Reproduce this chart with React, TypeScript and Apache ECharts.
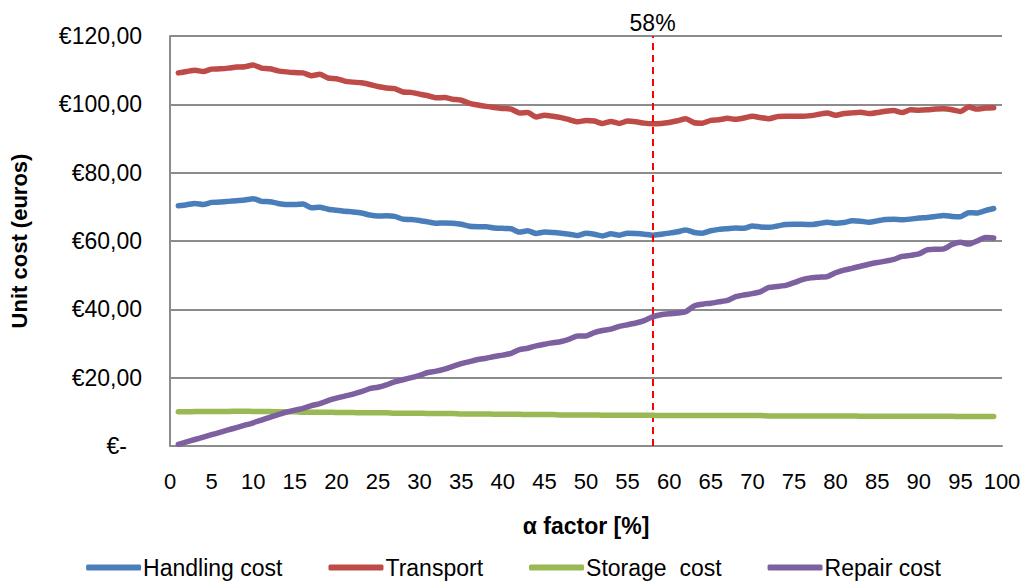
import React, { useEffect, useRef } from "react";
import * as echarts from "echarts";

const alpha = [
  1, 2, 3, 4, 5, 6, 7, 8, 9, 10, 11, 12, 13, 14, 15, 16, 17, 18, 19, 20,
  21, 22, 23, 24, 25, 26, 27, 28, 29, 30, 31, 32, 33, 34, 35, 36, 37, 38, 39, 40,
  41, 42, 43, 44, 45, 46, 47, 48, 49, 50, 51, 52, 53, 54, 55, 56, 57, 58, 59, 60,
  61, 62, 63, 64, 65, 66, 67, 68, 69, 70, 71, 72, 73, 74, 75, 76, 77, 78, 79, 80,
  81, 82, 83, 84, 85, 86, 87, 88, 89, 90, 91, 92, 93, 94, 95, 96, 97, 98, 99,
];

const handlingCost = [
  70.3, 70.6, 71.0, 70.7, 71.3, 71.4, 71.6, 71.8, 72.0, 72.4,
  71.6, 71.5, 71.0, 70.7, 70.7, 70.8, 69.7, 69.9, 69.3, 69.0,
  68.7, 68.5, 68.2, 67.6, 67.3, 67.4, 67.2, 66.4, 66.3, 66.0,
  65.6, 65.2, 65.3, 65.2, 64.9, 64.3, 64.2, 64.2, 63.8, 63.7,
  63.6, 62.6, 63.0, 62.2, 62.6, 62.5, 62.3, 62.0, 61.6, 62.3,
  62.0, 61.5, 62.1, 61.7, 62.3, 62.2, 62.0, 61.7, 62.0, 62.3,
  62.7, 63.2, 62.5, 62.3, 63.0, 63.4, 63.6, 63.8, 63.7, 64.4,
  64.1, 64.0, 64.4, 64.8, 64.9, 64.9, 64.8, 65.1, 65.5, 65.2,
  65.4, 65.9, 65.8, 65.5, 65.9, 66.3, 66.4, 66.2, 66.4, 66.7,
  66.9, 67.2, 67.5, 67.2, 67.1, 68.3, 68.2, 68.9, 69.5,
];

const transport = [
  109.2, 109.6, 110.0, 109.6, 110.3, 110.4, 110.6, 110.9, 111.0, 111.5,
  110.6, 110.4, 109.8, 109.5, 109.3, 109.2, 108.4, 108.8, 107.7, 107.5,
  106.8, 106.5, 106.3, 105.8, 105.2, 104.8, 104.6, 103.6, 103.5, 103.0,
  102.5, 101.9, 102.0, 101.5, 101.2, 100.3, 99.8, 99.4, 99.1, 98.8,
  98.6, 97.5, 97.6, 96.3, 96.8, 96.5, 96.1, 95.5, 94.9, 95.3,
  95.1, 94.4, 95.0, 94.4, 95.1, 94.9, 94.5, 94.3, 94.4, 94.7,
  95.2, 95.8, 94.6, 94.5, 95.3, 95.5, 95.9, 95.6, 96.0, 96.5,
  96.1, 95.8, 96.4, 96.5, 96.5, 96.5, 96.7, 97.1, 97.5, 96.8,
  97.3, 97.5, 97.7, 97.3, 97.6, 98.0, 98.2, 97.6, 98.4, 98.3,
  98.4, 98.6, 98.7, 98.4, 97.9, 99.2, 98.6, 98.9, 99.0,
];

const storageCost = [
  10.0, 10.0, 10.1, 10.1, 10.1, 10.1, 10.1, 10.2, 10.2, 10.1,
  10.1, 10.1, 10.0, 10.0, 10.0, 9.9, 9.9, 9.9, 9.9, 9.8,
  9.8, 9.8, 9.7, 9.7, 9.7, 9.7, 9.6, 9.6, 9.6, 9.6,
  9.5, 9.5, 9.5, 9.5, 9.4, 9.4, 9.4, 9.4, 9.3, 9.3,
  9.3, 9.3, 9.2, 9.2, 9.2, 9.2, 9.1, 9.1, 9.1, 9.1,
  9.1, 9.0, 9.0, 9.0, 9.0, 9.0, 9.0, 9.0, 8.9, 8.9,
  8.9, 8.9, 8.9, 8.9, 8.9, 8.9, 8.9, 8.9, 8.9, 8.9,
  8.9, 8.8, 8.8, 8.8, 8.8, 8.8, 8.8, 8.8, 8.8, 8.8,
  8.8, 8.8, 8.7, 8.7, 8.7, 8.7, 8.7, 8.7, 8.7, 8.7,
  8.7, 8.7, 8.7, 8.7, 8.6, 8.6, 8.6, 8.6, 8.6,
];

const repairCost = [
  0.5, 1.2, 1.9, 2.6, 3.3, 4.0, 4.7, 5.4, 6.1, 6.8,
  7.6, 8.4, 9.2, 9.9, 10.5, 11.0, 11.8, 12.4, 13.3, 14.0,
  14.6, 15.2, 15.9, 16.8, 17.2, 17.9, 18.8, 19.4, 20.0, 20.7,
  21.5, 21.9, 22.5, 23.3, 24.1, 24.7, 25.3, 25.7, 26.2, 26.6,
  27.1, 28.2, 28.6, 29.3, 29.8, 30.2, 30.6, 31.3, 32.2, 32.2,
  33.2, 33.8, 34.2, 35.0, 35.5, 36.0, 36.7, 37.8, 38.4, 38.7,
  38.9, 39.3, 41.0, 41.5, 41.8, 42.2, 42.6, 43.7, 44.2, 44.6,
  45.2, 46.4, 46.7, 47.0, 47.8, 48.7, 49.2, 49.4, 49.6, 50.7,
  51.5, 52.0, 52.6, 53.2, 53.7, 54.1, 54.6, 55.5, 55.8, 56.2,
  57.4, 57.6, 57.7, 59.0, 59.6, 59.1, 60.0, 61.0, 60.9,
];

const seriesNames = ["Handling cost", "Transport", "Storage  cost", "Repair cost"];
const seriesColors = ["#4A7EBB", "#BE4B48", "#98B954", "#7D60A0"];
const optimumAlpha = [58];

const FONT = "Liberation Sans, Arial, sans-serif";

export default function App() {
  const ref = useRef<HTMLDivElement>(null);

  useEffect(() => {
    if (!ref.current) return;
    const chart = echarts.init(ref.current, undefined, { renderer: "svg" });
    const allData = [handlingCost, transport, storageCost, repairCost];

    const series: any[] = allData.map((vals, si) => ({
      name: seriesNames[si],
      type: "line",
      data: alpha.map((a, i) => [a, vals[i]]),
      showSymbol: false,
      symbol: "none",
      smooth: 0.2,
      lineStyle: { width: 5.5, color: seriesColors[si], cap: "round", join: "round" },
      itemStyle: { color: seriesColors[si] },
      z: 3 + si,
    }));

    series[0].markLine = {
      silent: true,
      symbol: ["none", "none"],
      lineStyle: { color: "#FF0000", type: [7, 5], width: 2 },
      label: {
        show: true,
        position: "end",
        formatter: (p: any) => `${p.value}%`,
        fontSize: 23,
        fontFamily: FONT,
        color: "#000",
        distance: 2,
      },
      data: optimumAlpha.map((v) => ({ xAxis: v })),
    };

    chart.setOption({
      animation: false,
      textStyle: { fontFamily: FONT },
      grid: { left: 168, right: 25, top: 36, bottom: 137, containLabel: false },
      legend: {
        bottom: -1,
        left: "center",
        itemGap: 46,
        itemWidth: 55,
        itemHeight: 6,
        icon: "roundRect",
        textStyle: { fontSize: 23, color: "#000", fontFamily: FONT, padding: [0, 0, 0, -3] },
        data: seriesNames,
      },
      xAxis: {
        type: "value",
        min: 0,
        max: 100,
        interval: 5,
        name: "α factor [%]",
        nameLocation: "middle",
        nameGap: 68,
        nameTextStyle: { fontSize: 23, fontWeight: "bold", color: "#000", fontFamily: FONT },
        axisLine: { show: true, lineStyle: { color: "#8C8C8C", width: 2 } },
        axisTick: { show: false },
        axisLabel: { fontSize: 22, color: "#000", margin: 24, fontFamily: FONT },
        splitLine: { show: false },
      },
      yAxis: {
        type: "value",
        min: 0,
        max: 120,
        interval: 20,
        name: "Unit cost (euros)",
        nameLocation: "middle",
        nameGap: 140,
        nameRotate: 90,
        nameTextStyle: { fontSize: 22, fontWeight: "bold", color: "#000", fontFamily: FONT },
        axisLine: { show: true, lineStyle: { color: "#8C8C8C", width: 2 } },
        axisTick: { show: false },
        axisLabel: {
          fontSize: 23,
          color: "#000",
          margin: 28,
          fontFamily: FONT,
          formatter: (v: number) =>
            v === 0 ? "{z|€-}" : "€" + v.toFixed(2).replace(".", ","),
          rich: { z: { fontSize: 23, color: "#000", fontFamily: FONT, padding: [0, 15, 0, 0] } },
        },
        splitLine: { show: true, lineStyle: { color: "#8C8C8C", width: 2 } },
      },
      series,
    });

    return () => chart.dispose();
  }, []);

  return (
    <div
      ref={ref}
      style={{ position: "absolute", left: 0, top: 0, width: 1027, height: 583, background: "#fff" }}
    />
  );
}
